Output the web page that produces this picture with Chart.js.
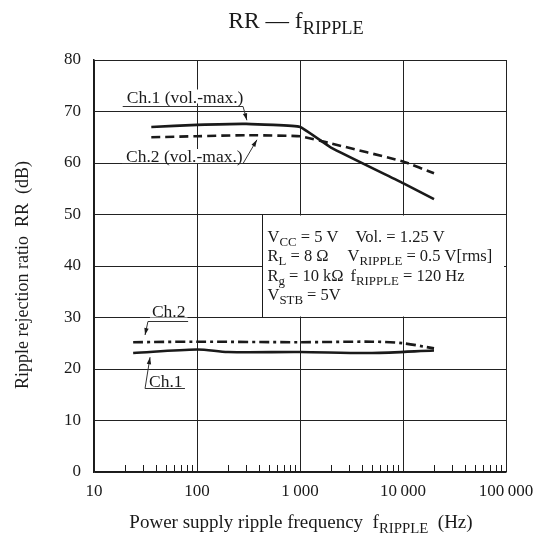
<!DOCTYPE html>
<html>
<head>
<meta charset="utf-8">
<script src="https://cdn.jsdelivr.net/npm/chart.js@4.4.1/dist/chart.umd.min.js"></script>
<style>
  html, body { margin: 0; padding: 0; background: #fff; }
  #wrap { width: 539px; height: 541px; position: relative; }
</style>
</head>
<body>
<div id="wrap"><canvas id="chart"></canvas></div>
<script>
// values
var freqCh1Max = [36, 100, 300, 1000, 2000, 10000, 20000];
var rrCh1Max = [67.0, 67.4, 67.6, 67.0, 63.0, 56.1, 53.0];
var freqCh2Max = [36, 100, 300, 1000, 2000, 10000, 20000];
var rrCh2Max = [65.0, 65.2, 65.4, 65.2, 63.8, 60.3, 58.0];
var freqCh1 = [24, 100, 200, 1000, 5000, 20000];
var rrCh1 = [23.1, 23.8, 23.3, 23.3, 23.1, 23.6];
var freqCh2 = [24, 100, 1000, 5000, 10000, 20000];
var rrCh2 = [25.2, 25.3, 25.2, 25.3, 25.0, 24.0];

var xTicks = [10, 20, 30, 40, 50, 60, 70, 80, 90,
              100, 200, 300, 400, 500, 600, 700, 800, 900,
              1000, 2000, 3000, 4000, 5000, 6000, 7000, 8000, 9000,
              10000, 20000, 30000, 40000, 50000, 60000, 70000, 80000, 90000, 100000];
var xLabels = { 10: '10', 100: '100', 1000: '1\u2009000', 10000: '10\u2009000', 100000: '100\u2009000' };

// curve labels: text, underline from/to freq, underline dB, arrow start end, arrow tip
var noteText = ['Ch.1 (vol.-max.)', 'Ch.2 (vol.-max.)', 'Ch.2', 'Ch.1'];
var noteFrom = [19, 18.7, 33.4, 31.3];
var noteTo = [280, 280, 82, 76.4];
var noteLevel = [71.1, 60.0, 29.3, 16.3];
var noteStartRight = [true, true, false, false];
var noteTip = [[305, 68.3], [382, 64.5], [31.3, 26.6], [35, 22.3]];

// conditions box (data coords of its corners)
var boxFreq = [427, 100000];
var boxLevel = [30, 50];
var boxRows = [
    [[['V', 0], ['CC', 1], [' = 5 V', 0]], [['Vol. = 1.25 V', 0]]],
    [[['R', 0], ['L', 1], [' = 8 \u03A9', 0]], [['V', 0], ['RIPPLE', 1], [' = 0.5 V[rms]', 0]]],
    [[['R', 0], ['g', 1], [' = 10 k\u03A9', 0]], [['f', 0], ['RIPPLE', 1], [' = 120 Hz', 0]]],
    [[['V', 0], ['STB', 1], [' = 5V', 0]], []]
];

var FONT = "'Liberation Serif', 'Times New Roman', serif";
var INK = '#1a1a1a';
var SUB = 0.78;

function richWidth(ctx, parts, size) {
    var w = 0;
    for (var i = 0; i < parts.length; i++) {
        var s = parts[i][1] ? size * SUB : size;
        ctx.font = s + 'px ' + FONT;
        w += ctx.measureText(parts[i][0]).width;
    }
    return w;
}

function drawRich(ctx, parts, x, y, size) {
    ctx.textBaseline = 'alphabetic';
    ctx.textAlign = 'left';
    for (var i = 0; i < parts.length; i++) {
        var sub = parts[i][1];
        var s = sub ? size * SUB : size;
        ctx.font = s + 'px ' + FONT;
        ctx.fillText(parts[i][0], x, sub ? y + size * 0.25 : y);
        x += ctx.measureText(parts[i][0]).width;
    }
}

function arrow(ctx, x1, y1, x2, y2) {
    ctx.beginPath();
    ctx.moveTo(x1, y1);
    ctx.lineTo(x2, y2);
    ctx.stroke();
    var a = Math.atan2(y2 - y1, x2 - x1);
    var len = 7, wid = 2.2;
    ctx.beginPath();
    ctx.moveTo(x2, y2);
    ctx.lineTo(x2 - len * Math.cos(a) + wid * Math.sin(a), y2 - len * Math.sin(a) - wid * Math.cos(a));
    ctx.lineTo(x2 - len * Math.cos(a) - wid * Math.sin(a), y2 - len * Math.sin(a) + wid * Math.cos(a));
    ctx.closePath();
    ctx.fill();
}

function points(xs, ys) {
    var out = [];
    for (var i = 0; i < xs.length; i++)
        out.push({ x: xs[i], y: ys[i] });
    return out;
}

function isDecade(v) {
    var l = Math.log10(v);
    return Math.abs(l - Math.round(l)) < 1e-9;
}

var extras = {
    id: 'extras',
    beforeDatasetsDraw: function (chart) {
        var ctx = chart.ctx;
        var xs = chart.scales.x, ys = chart.scales.y;
        var area = chart.chartArea;
        ctx.save();

        // minor ticks pointing up from the bottom axis
        ctx.strokeStyle = INK;
        ctx.lineWidth = 1;
        for (var i = 0; i < xTicks.length; i++) {
            if (isDecade(xTicks[i])) continue;
            var px = Math.round(xs.getPixelForValue(xTicks[i])) + 0.5;
            ctx.beginPath();
            ctx.moveTo(px, area.bottom);
            ctx.lineTo(px, area.bottom - 7);
            ctx.stroke();
        }

        // conditions box
        var bl = Math.round(xs.getPixelForValue(boxFreq[0])) + 0.5;
        var br = xs.getPixelForValue(boxFreq[1]);
        var bt = ys.getPixelForValue(boxLevel[1]);
        var bb = ys.getPixelForValue(boxLevel[0]);
        ctx.fillStyle = '#fff';
        ctx.fillRect(bl, bt + 1, br - bl - 2, bb - bt - 2);
        ctx.beginPath();
        ctx.moveTo(bl, bt);
        ctx.lineTo(bl, bb);
        ctx.stroke();

        ctx.fillStyle = INK;
        var rowY = [27, 46, 66, 85];
        var colX = [5, 85];
        var colShift = [8, 0, 3, 0];
        for (var r = 0; r < boxRows.length; r++) {
            drawRich(ctx, boxRows[r][0], bl + colX[0], bt + rowY[r], 16.5);
            if (boxRows[r][1].length)
                drawRich(ctx, boxRows[r][1], bl + colX[1] + colShift[r], bt + rowY[r], 16.5);
        }
        ctx.restore();
    },
    afterDraw: function (chart) {
        var ctx = chart.ctx;
        var xs = chart.scales.x, ys = chart.scales.y;
        ctx.save();
        ctx.fillStyle = INK;
        ctx.strokeStyle = '#333';
        ctx.lineWidth = 1;

        // curve labels with leader arrows
        var gap = [4, 1.5, 5, 2];
        for (var i = 0; i < noteText.length; i++) {
            var x1 = xs.getPixelForValue(noteFrom[i]);
            var x2 = xs.getPixelForValue(noteTo[i]);
            var yy = Math.round(ys.getPixelForValue(noteLevel[i])) + 0.5;
            var part = [[noteText[i], 0]];
            var w = richWidth(ctx, part, 17.5);
            ctx.fillStyle = '#fff';
            ctx.fillRect(x1 + 2, yy - gap[i] - 13, w + 4, 13 + Math.min(gap[i], 1.5) - 0.5);
            ctx.fillStyle = INK;
            ctx.beginPath();
            ctx.moveTo(x1, yy);
            ctx.lineTo(x2, yy);
            ctx.stroke();
            var sx = noteStartRight[i] ? x2 : x1;
            arrow(ctx, sx, yy, xs.getPixelForValue(noteTip[i][0]), ys.getPixelForValue(noteTip[i][1]));
            drawRich(ctx, part, x1 + 4, yy - gap[i], 17.5);
        }

        // title
        var title = [['RR \u2014 f', 0], ['RIPPLE', 1]];
        var tw = richWidth(ctx, title, 23.5);
        drawRich(ctx, title, 296 - tw / 2, 28, 23.5);

        // x axis title
        var xt = [['Power supply ripple frequency  f', 0], ['RIPPLE', 1], ['  (Hz)', 0]];
        var xw = richWidth(ctx, xt, 19);
        drawRich(ctx, xt, 301 - xw / 2, 528, 19);

        // y axis title
        var yt = [['Ripple rejection ratio  RR  (dB)', 0]];
        var yw = richWidth(ctx, yt, 18);
        ctx.translate(28, 275);
        ctx.rotate(-Math.PI / 2);
        drawRich(ctx, yt, -yw / 2, 0, 18);
        ctx.restore();
    }
};

var config = {
    type: 'line',
    plugins: [extras],
    data: {
        datasets: [{
            label: 'Ch.1 (vol.-max.)',
            data: points(freqCh1Max, rrCh1Max),
            borderColor: INK,
            borderWidth: 2.6,
            tension: 0.1
        }, {
            label: 'Ch.2 (vol.-max.)',
            data: points(freqCh2Max, rrCh2Max),
            borderColor: INK,
            borderWidth: 2.6,
            borderDash: [9, 5],
            tension: 0.1
        }, {
            label: 'Ch.2',
            data: points(freqCh2, rrCh2),
            borderColor: INK,
            borderWidth: 2.6,
            borderDash: [10, 4, 3, 4],
            tension: 0.3
        }, {
            label: 'Ch.1',
            data: points(freqCh1, rrCh1),
            borderColor: INK,
            borderWidth: 2.6,
            tension: 0.3
        }]
    },
    options: {
        responsive: true,
        maintainAspectRatio: false,
        animation: false,
        layout: { padding: { top: 60, right: 33, bottom: 0, left: 0 } },
        elements: { point: { radius: 0 } },
        plugins: { legend: { display: false }, tooltip: { enabled: false } },
        scales: {
            x: {
                type: 'logarithmic',
                min: 10,
                max: 100000,
                afterBuildTicks: function (scale) {
                    scale.ticks = xTicks.map(function (v) { return { value: v }; });
                },
                afterFit: function (scale) {
                    scale.height = 69;
                    scale.paddingLeft = 0;
                    scale.paddingRight = 0;
                },
                ticks: {
                    autoSkip: false,
                    maxRotation: 0,
                    padding: 9,
                    color: INK,
                    font: { family: FONT, size: 17 },
                    callback: function (v) { return xLabels[v] || ''; }
                },
                grid: {
                    drawTicks: false,
                    lineWidth: 1,
                    color: function (c) {
                        return c.tick && isDecade(c.tick.value) ? '#222' : 'rgba(0,0,0,0)';
                    }
                },
                border: { color: INK, width: 1.5 }
            },
            y: {
                min: 0,
                max: 80,
                afterFit: function (scale) {
                    scale.width = 94;
                    scale.paddingTop = 0;
                    scale.paddingBottom = 0;
                },
                ticks: {
                    stepSize: 10,
                    padding: 13,
                    color: INK,
                    font: { family: FONT, size: 17 }
                },
                grid: { drawTicks: false, color: '#222', lineWidth: 1 },
                border: { color: INK, width: 1.5 }
            }
        }
    }
};

var ctx = document.getElementById('chart').getContext('2d');
new Chart(ctx, config);
</script>
</body>
</html>
